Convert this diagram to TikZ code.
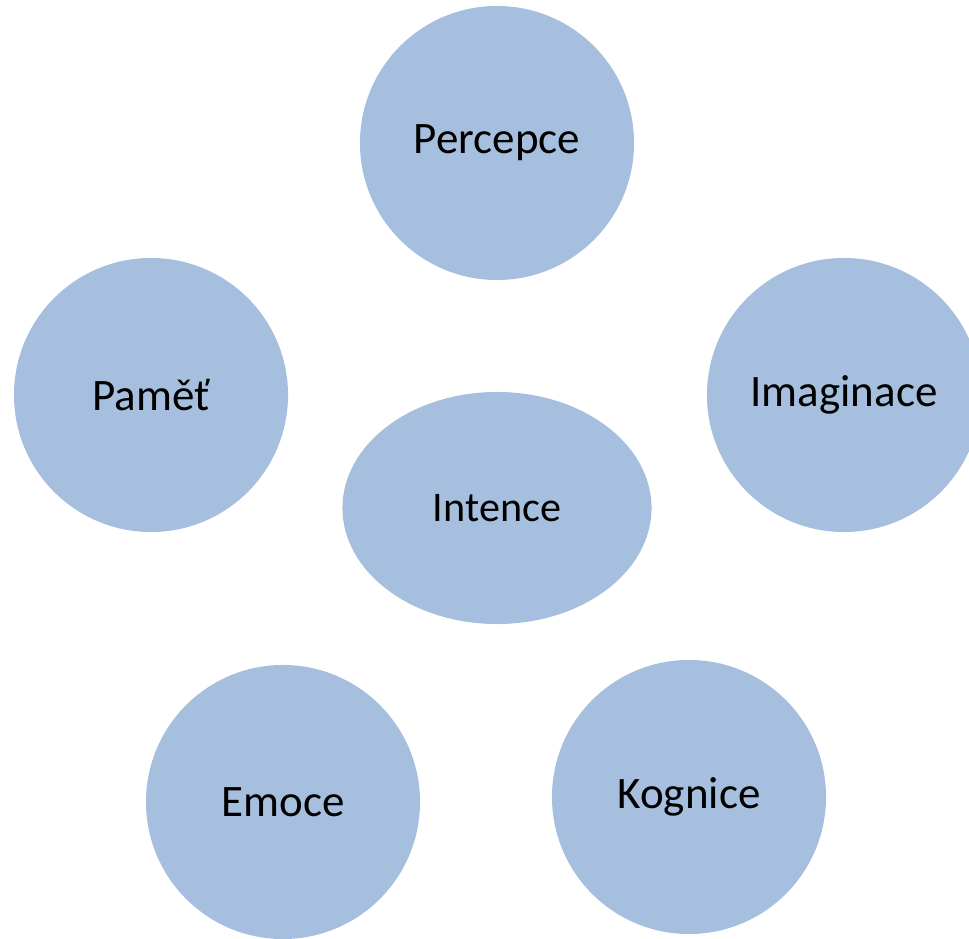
\documentclass[tikz,border=0pt]{standalone}
\usepackage{fontspec}
\setmainfont{Carlito}
\usetikzlibrary{shapes.geometric}
\definecolor{bubble}{HTML}{A7BFDE}
\begin{document}
\begin{tikzpicture}[x=0.025cm, y=-0.025cm,
   bubble_style/.style={circle, fill=bubble, draw=none, inner sep=0pt, minimum size=6.85cm, font=\fontsize{32}{38}\selectfont},
   core_style/.style={ellipse, fill=bubble, draw=none, inner sep=0pt, minimum width=7.725cm, minimum height=5.8cm, font=\fontsize{30}{36}\selectfont}]
	  \useasboundingbox (0,0) rectangle (969,939);
	  \node [bubble_style] (perc) at (497,143) {Percepce};
	  \node [bubble_style] (pam)  at (151,395) {Paměť};
	  \node [bubble_style] (imag) at (844,395) {Imaginace};
	  \node [core_style]   (int)  at (497,508) {Intence};
	  \node [bubble_style] (emo)  at (283,802) {Emoce};
	  \node [bubble_style] (kog)  at (689,797) {Kognice};
	\end{tikzpicture}
\end{document}
